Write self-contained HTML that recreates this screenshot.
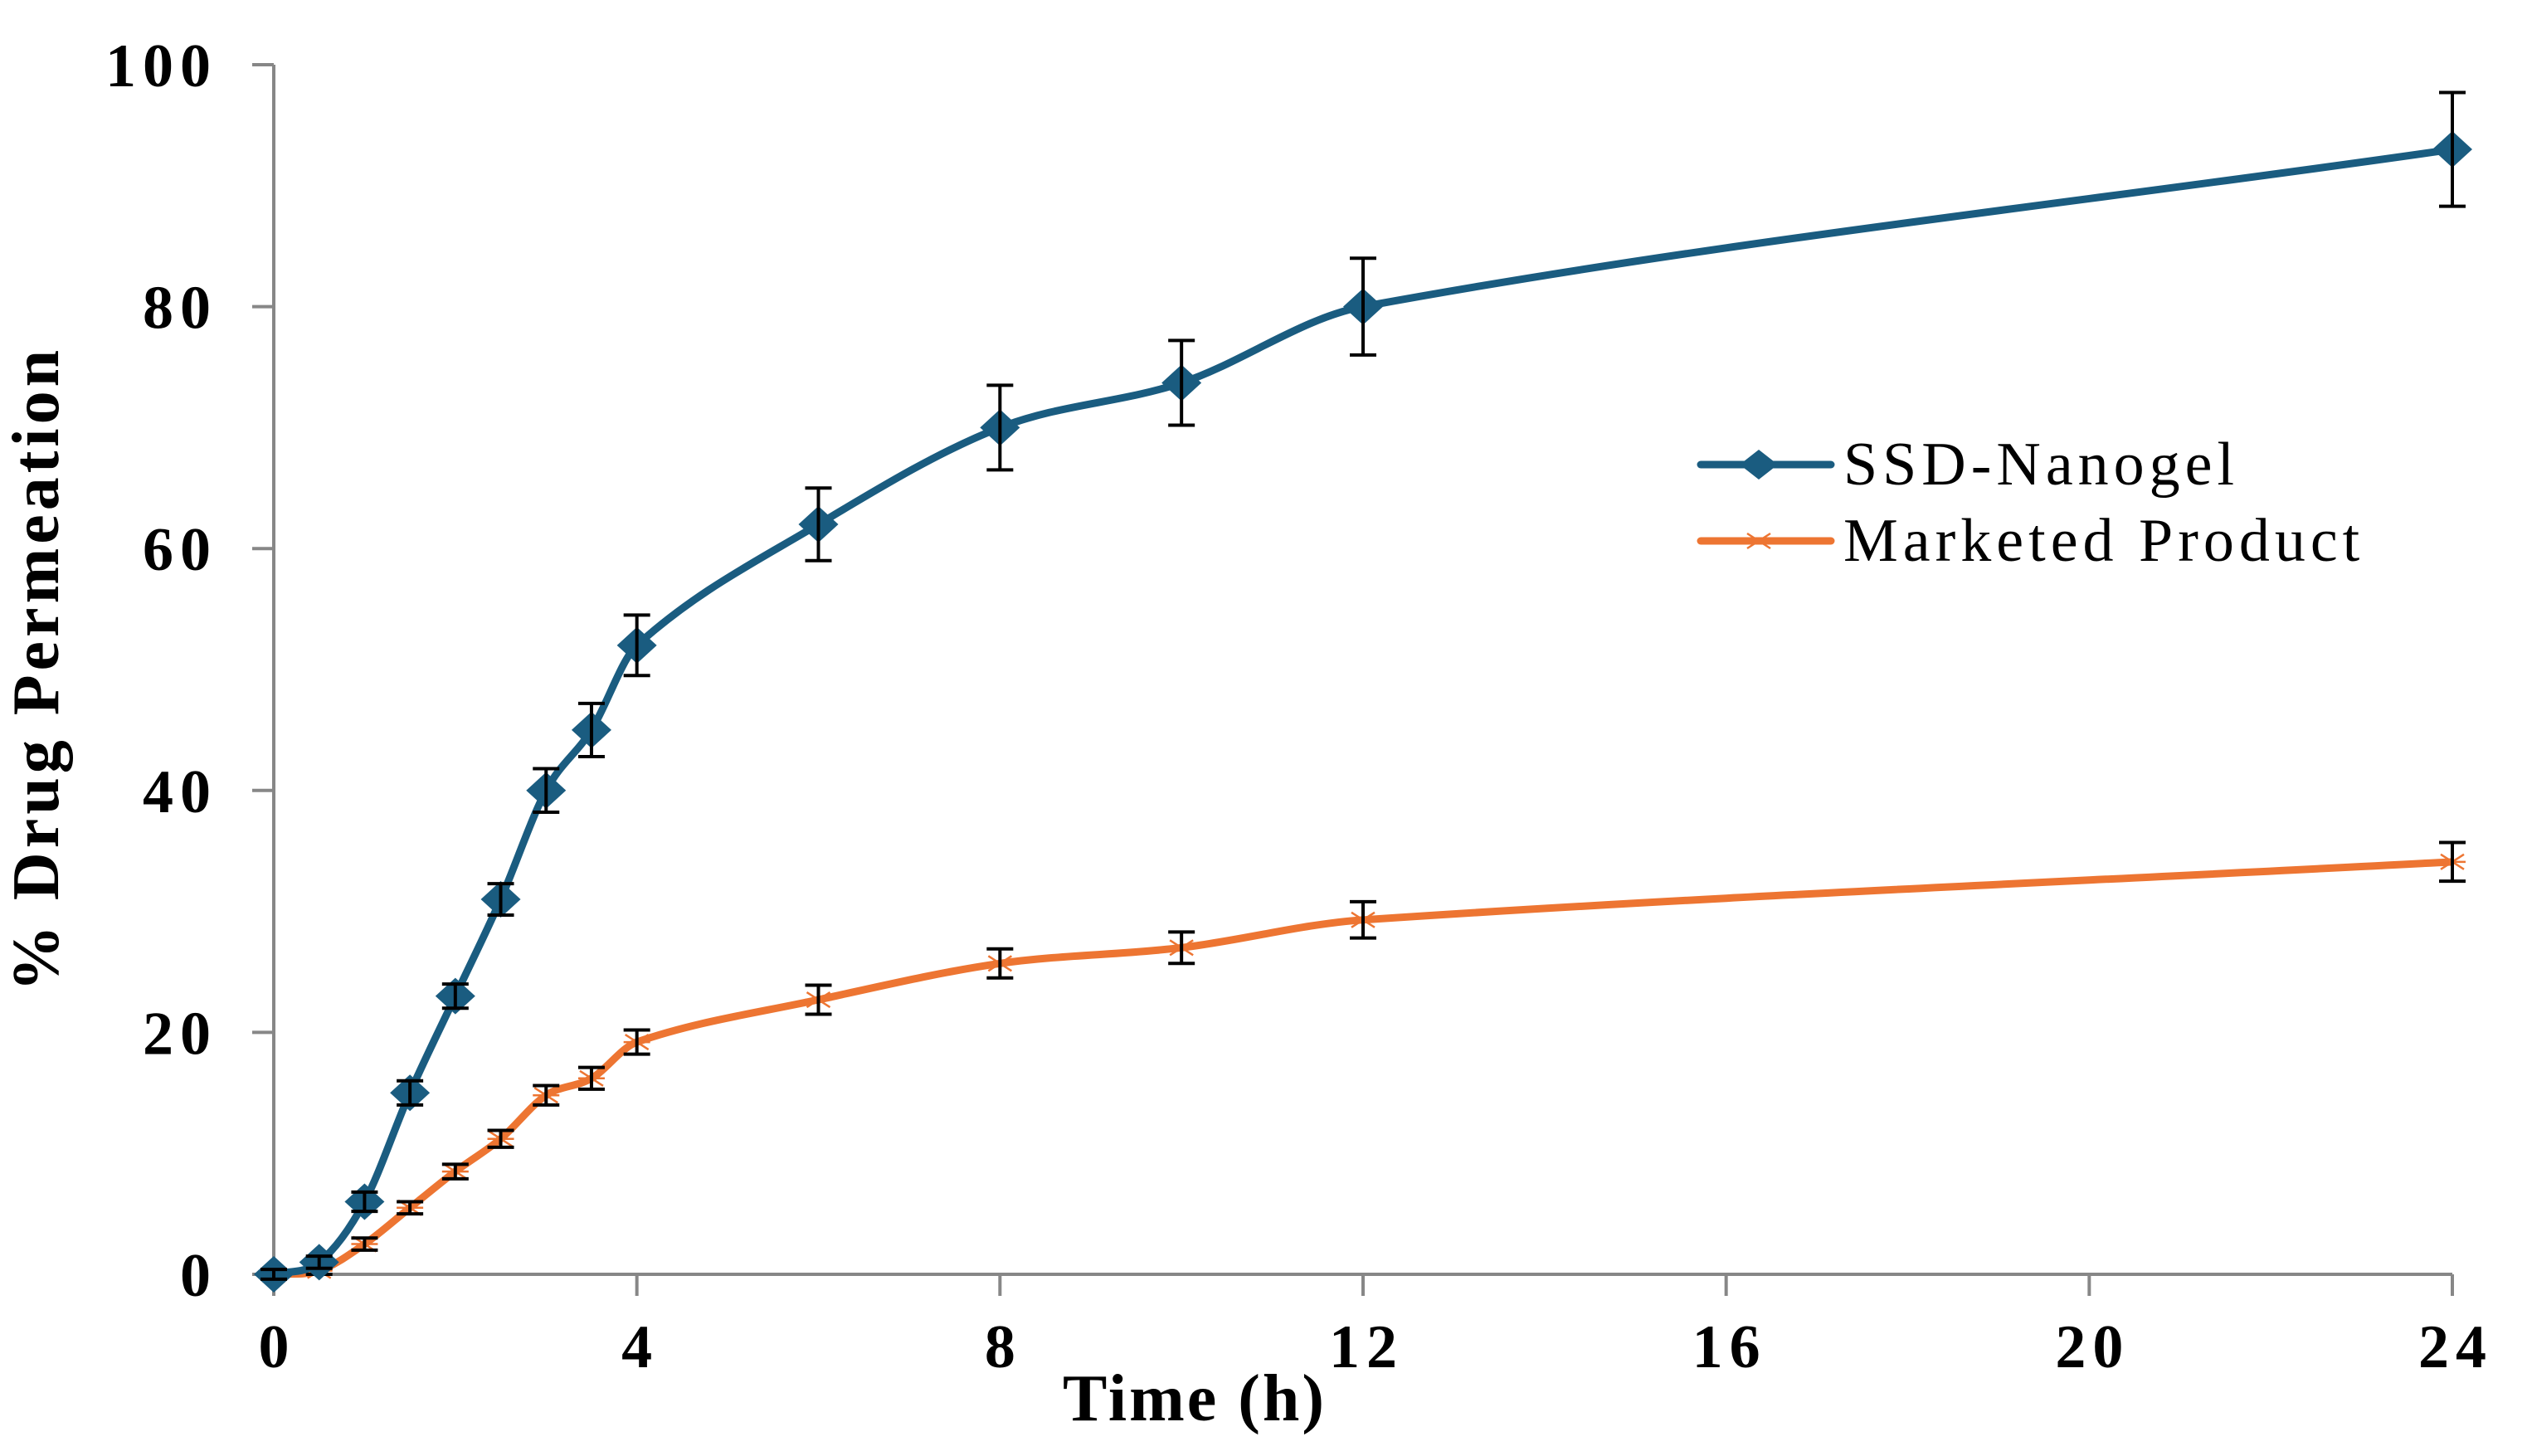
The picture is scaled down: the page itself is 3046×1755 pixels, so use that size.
<!DOCTYPE html>
<html><head><meta charset="utf-8"><style>
html,body{margin:0;padding:0;background:#fff;}
svg{display:block;font-family:"Liberation Serif",serif;}
</style></head><body>
<svg id="chart" width="3046" height="1755" viewBox="0 0 3046 1755">
<g id="axes"></g><g id="series"></g>
<text x="1440" y="1712" text-anchor="middle" font-size="80" font-weight="bold" letter-spacing="3">Time (h)</text>
<text transform="translate(70,806) rotate(-90)" text-anchor="middle" font-size="80" font-weight="bold" letter-spacing="5">% Drug Permeation</text>
<g>
<line x1="2050" y1="560" x2="2207" y2="560" stroke="#1a5c80" stroke-width="9" stroke-linecap="round"/>
<path d="M2097,560 L2120,542 L2143,560 L2120,578 Z" fill="#1a5c80"/>
<text x="2222" y="584" font-size="74" letter-spacing="6">SSD-Nanogel</text>
<line x1="2050" y1="652" x2="2207" y2="652" stroke="#ed7532" stroke-width="9" stroke-linecap="round"/>
<text x="2222" y="676" font-size="74" letter-spacing="6">Marketed Product</text>
</g>
</svg>
<script>
const times=[0,0.5,1,1.5,2,2.5,3,3.5,4,6,8,10,12,24];
const ssdValues=[0,1,6,15,23,31,40,45,52,62,70,73.7,80,93];
const ssdErrors=[0.4,0.5,0.8,1,1,1.3,1.8,2.2,2.5,3,3.5,3.5,4,4.7];
const mktValues=[0,0.3,2.5,5.5,8.5,11.2,14.8,16.2,19.2,22.7,25.7,27,29.3,34.1];
const mktErrors=[0.3,0.3,0.5,0.5,0.6,0.7,0.8,0.9,1,1.2,1.2,1.3,1.5,1.6];
const xTicks=[0,4,8,12,16,20,24];
const yTicks=[0,20,40,60,80,100];
const NS="http://www.w3.org/2000/svg";
const X0=330,X1=2956,Y0=1536,Y1=78;
const xs=t=>X0+(X1-X0)*t/24;
const ys=v=>Y0-(Y0-Y1)*v/100;
function mk(tag,attrs,parent){const e=document.createElementNS(NS,tag);for(const k in attrs)e.setAttribute(k,attrs[k]);parent.appendChild(e);return e;}
const axes=document.getElementById('axes'),series=document.getElementById('series');
const ya=mk('line',{x1:X0,y1:Y1,x2:X0,y2:Y0,stroke:'#878787','stroke-width':4},axes);


const xa=mk('line',{x1:X0,y1:Y0,x2:X1,y2:Y0,stroke:'#878787','stroke-width':4},axes);


yTicks.forEach(v=>{
 const tk=mk('line',{x1:X0-26,y1:ys(v),x2:X0,y2:ys(v),stroke:'#878787','stroke-width':4},axes);
 
 
 const tl=mk('text',{x:262,y:ys(v)+26,'text-anchor':'end','font-size':74,'font-weight':'bold','letter-spacing':8},axes);
 tl.textContent=v;
 
 
});
xTicks.forEach(v=>{
 const tk=mk('line',{x1:xs(v),y1:Y0,x2:xs(v),y2:Y0+26,stroke:'#878787','stroke-width':4},axes);
 
 
 const tl=mk('text',{x:xs(v)+4,y:Y0+112,'text-anchor':'middle','font-size':74,'font-weight':'bold','letter-spacing':8},axes);
 tl.textContent=v;
 
 
});
function smooth(pts){
 const n=pts.length,m=[];
 for(let i=0;i<n;i++){
  const a=pts[Math.max(0,i-1)],b=pts[Math.min(n-1,i+1)];
  m.push((b[1]-a[1])/(b[0]-a[0]));
 }
 let d=`M${pts[0][0]},${pts[0][1]}`;
 for(let i=0;i<n-1;i++){
  const p1=pts[i],p2=pts[i+1],dx=(p2[0]-p1[0])/3;
  d+=` C${p1[0]+dx},${p1[1]+m[i]*dx} ${p2[0]-dx},${p2[1]-m[i+1]*dx} ${p2[0]},${p2[1]}`;
 }
 return d;
}
function drawSeries(vals,errs,color,name,marker){
 const pts=times.map((t,i)=>[xs(t),ys(vals[i])]);
 const p=mk('path',{d:smooth(pts),fill:'none',stroke:color,'stroke-width':9,'stroke-linejoin':'round'},series);
 
 
 pts.forEach((q,i)=>{
  const g=mk('g',{},series);
  
  
  if(marker==='diamond'){
   mk('path',{d:`M${q[0]-24},${q[1]} L${q[0]},${q[1]-22} L${q[0]+24},${q[1]} L${q[0]},${q[1]+22} Z`,fill:color},g);
  }else{
   mk('path',{d:`M${q[0]-14},${q[1]-9} L${q[0]+14},${q[1]+9} M${q[0]-14},${q[1]+9} L${q[0]+14},${q[1]-9} M${q[0]-16},${q[1]} L${q[0]+16},${q[1]}`,stroke:color,'stroke-width':2.5},g);
  }
  const yt=ys(vals[i]+errs[i]),yb=ys(vals[i]-errs[i]);
  mk('path',{d:`M${q[0]},${yt} L${q[0]},${yb} M${q[0]-16},${yt} L${q[0]+16},${yt} M${q[0]-16},${yb} L${q[0]+16},${yb}`,stroke:'#000','stroke-width':4,fill:'none'},g);
 });
}
drawSeries(mktValues,mktErrors,'#ed7532','marketed','star');
drawSeries(ssdValues,ssdErrors,'#1a5c80','ssd-nanogel','diamond');
const lm=mk('path',{d:'M2106,551 L2134,569 M2106,569 L2134,551 M2104,560 L2136,560',stroke:'#ed7532','stroke-width':2.5},document.getElementById('chart'));


lm.setAttribute('transform','translate(0,92)');
</script>
</body></html>
